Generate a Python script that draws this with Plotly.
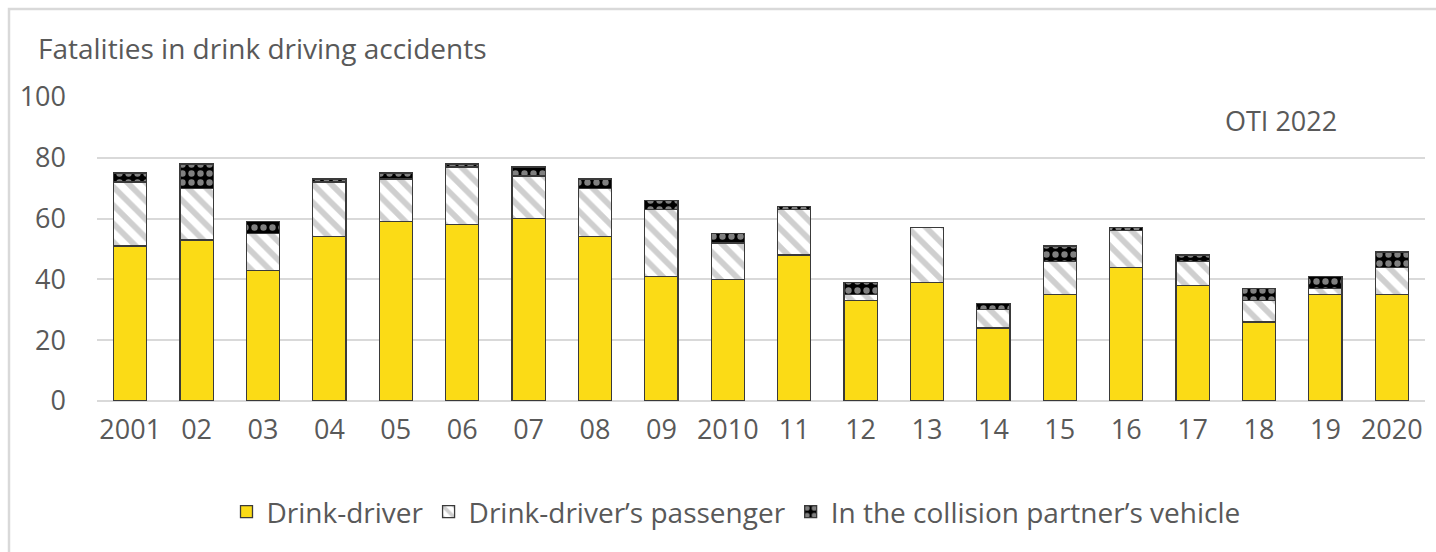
import plotly.graph_objects as go

# Fatalities in drink driving accidents, by year and road user group
years = ["2001", "02", "03", "04", "05", "06", "07", "08", "09", "2010",
         "11", "12", "13", "14", "15", "16", "17", "18", "19", "2020"]
drink_driver = [51, 53, 43, 54, 59, 58, 60, 54, 41, 40,
                48, 33, 39, 24, 35, 44, 38, 26, 35, 35]
passenger = [21, 17, 12, 18, 14, 19, 14, 16, 22, 12,
             15, 2, 18, 6, 11, 12, 8, 7, 2, 9]
partner_vehicle = [3, 8, 4, 1, 2, 1, 3, 3, 3, 3,
                   1, 4, 0, 2, 5, 1, 2, 4, 4, 5]

FONT = "Open Sans"
TEXT = "#595959"
GRID = "#d9d9d9"
OUTLINE = dict(color="#3a3a3a", width=1.3)

W, H = 1436, 552
L, R, T, B = 97, 11, 97, 151
PW, PH = W - L - R, H - T - B


def px_x(p):
    return (p - L) / PW


def px_y(p):
    return (H - B - p) / PH


fig = go.Figure()
fig.add_bar(
    x=years, y=drink_driver, name="Drink-driver",
    marker=dict(color="#FBDB16", line=OUTLINE),
)
fig.add_bar(
    x=years, y=passenger, name="Drink-driver’s passenger",
    marker=dict(
        color="white", line=OUTLINE,
        pattern=dict(shape="\\", fgcolor="#A0A0A0", bgcolor="white",
                     size=13, solidity=0.45),
    ),
)
fig.add_bar(
    x=years, y=partner_vehicle, name="In the collision partner’s vehicle",
    marker=dict(
        color="black", line=OUTLINE,
        pattern=dict(shape=".", fgcolor="white", bgcolor="black",
                     size=9, solidity=0.4),
    ),
)

fig.update_layout(
    width=W, height=H,
    margin=dict(l=L, r=R, t=T, b=B),
    barmode="stack", bargap=0.5,
    plot_bgcolor="white", paper_bgcolor="white",
    font=dict(family=FONT, color=TEXT, size=27),
    showlegend=True,
    legend=dict(
        orientation="h", x=px_x(736), xanchor="center",
        y=px_y(512), yanchor="middle",
        font=dict(size=28, color=TEXT), traceorder="normal",
        itemwidth=30,
    ),
    xaxis=dict(
        type="category", showgrid=False, showline=False, zeroline=False,
        tickfont=dict(size=27, color=TEXT), ticks="", ticklabelstandoff=10,
    ),
    yaxis=dict(
        range=[0, 100], tickvals=[0, 20, 40, 60, 80, 100],
        showgrid=True, gridcolor=GRID, gridwidth=2,
        zeroline=True, zerolinecolor=GRID, zerolinewidth=2,
        showline=False, ticks="", ticklabelstandoff=30,
        tickfont=dict(size=27, color=TEXT),
    ),
    shapes=[
        # outer chart frame
        dict(type="rect", xref="paper", yref="paper",
             x0=px_x(9), x1=px_x(1445), y0=px_y(560), y1=px_y(9),
             line=dict(color=GRID, width=2.5), fillcolor="rgba(0,0,0,0)",
             layer="below"),
        # white box behind the source label
        dict(type="rect", xref="paper", yref="paper",
             x0=px_x(1204), x1=1.0, y0=px_y(150), y1=px_y(90),
             line=dict(width=0), fillcolor="white", layer="above"),
    ],
    annotations=[
        dict(text="Fatalities in drink driving accidents", xref="paper",
             yref="paper", x=px_x(36), y=px_y(48), xanchor="left",
             yanchor="middle", showarrow=False,
             font=dict(size=28, color=TEXT)),
        dict(text="OTI 2022", xref="paper", yref="paper",
             x=px_x(1281), y=px_y(120), xanchor="center", yanchor="middle",
             showarrow=False, font=dict(size=27, color=TEXT)),
    ],
)

fig.write_html("out.html")
